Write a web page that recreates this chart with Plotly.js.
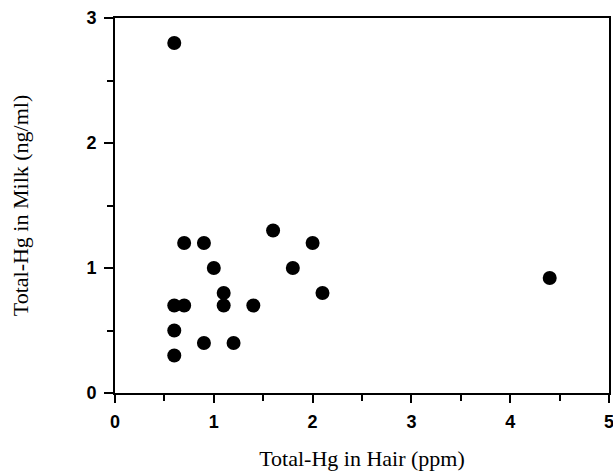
<!DOCTYPE html>
<html>
<head>
<meta charset="utf-8">
<script src="https://cdn.plot.ly/plotly-3.0.1.min.js"></script>
<style>html,body{margin:0;padding:0;background:#fff;}#chart{width:613px;height:473px;}</style>
</head>
<body>
<div id="chart"></div>
<script>
// Total-Hg in hair (ppm) vs total-Hg in milk (ng/ml)
var hairHg = [0.6, 0.6, 0.7, 0.6, 0.6, 0.7, 0.9, 1.0, 1.1, 1.1, 1.4, 0.9, 1.2, 1.6, 2.0, 1.8, 2.1, 4.4];
var milkHg = [2.8, 0.7, 0.7, 0.5, 0.3, 1.2, 1.2, 1.0, 0.8, 0.7, 0.7, 0.4, 0.4, 1.3, 1.2, 1.0, 0.8, 0.92];
var xTickVals = [0, 1, 2, 3, 4, 5];
var yTickVals = [0, 1, 2, 3];
var xTitle = "Total-Hg in Hair (ppm)";
var yTitle = "Total-Hg in Milk (ng/ml)";

var tickFont = {family: "Liberation Sans, Arial, sans-serif", size: 18, color: "#000", weight: "bold"};
var titleFont = {family: "Liberation Serif, Times New Roman, serif", size: 22, color: "#000"};

var trace = {
  x: hairHg, y: milkHg, type: "scatter", mode: "markers",
  marker: {color: "#000", size: 14, line: {width: 0}},
  hoverinfo: "x+y", cliponaxis: false
};

var layout = {
  width: 613, height: 473,
  margin: {l: 115, r: 4, t: 18, b: 80},
  paper_bgcolor: "#fff", plot_bgcolor: "#fff",
  showlegend: false,
  xaxis: {
    range: [0, 5], tickvals: xTickVals, ticktext: xTickVals.map(String),
    ticks: "outside", ticklen: 8, tickwidth: 2, tickcolor: "#000",
    minor: {dtick: 0.5, ticks: "outside", ticklen: 6, tickwidth: 2, tickcolor: "#000"},
    showline: true, linewidth: 2, linecolor: "#000", mirror: true,
    showgrid: false, zeroline: false,
    tickfont: tickFont, automargin: false, ticklabelstandoff: 3,
    ticklabeloverflow: "allow",
    title: {text: xTitle, font: titleFont, standoff: 20}
  },
  yaxis: {
    range: [0, 3], tickvals: yTickVals, ticktext: yTickVals.map(String),
    ticks: "outside", ticklen: 9, tickwidth: 2, tickcolor: "#000",
    minor: {dtick: 0.5, ticks: "outside", ticklen: 6, tickwidth: 2, tickcolor: "#000"},
    showline: true, linewidth: 2, linecolor: "#000", mirror: true,
    showgrid: false, zeroline: false,
    tickfont: tickFont, automargin: false, ticklabelstandoff: 4,
    ticklabeloverflow: "allow",
    title: {text: yTitle, font: titleFont, standoff: 52}
  }
};

Plotly.newPlot("chart", [trace], layout, {displayModeBar: false, staticPlot: true});
</script>
</body>
</html>
